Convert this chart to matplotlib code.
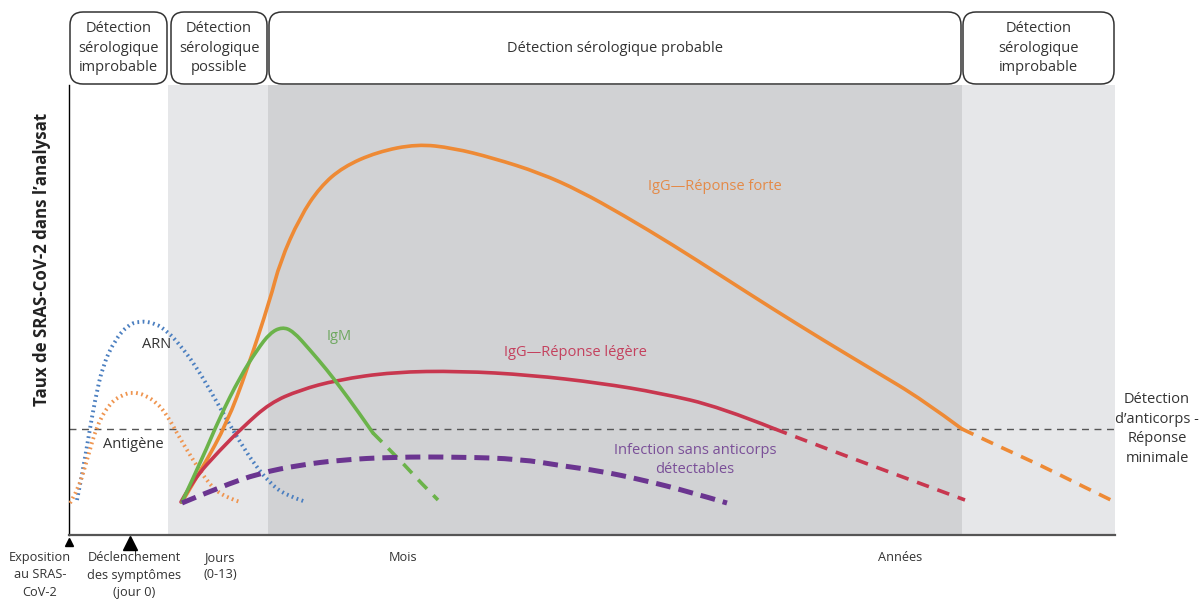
import matplotlib.pyplot as plt
from matplotlib.patches import FancyBboxPatch, Rectangle, PathPatch
from matplotlib.path import Path

plt.rcParams['font.family'] = ['Open Sans', 'DejaVu Sans']

# time axis (arbitrary units, 0 = exposure) and level (0 = baseline)
arn_t = [8, 14, 19, 26, 34, 46, 59, 71, 86, 99, 111, 126, 141, 158, 171, 186, 201, 216, 237]
arn_v = [35, 65, 95, 135, 170, 195, 210, 214, 212, 203, 190, 170, 145, 115, 93, 70, 52, 40, 33]

ag_t = [1, 9, 18, 28, 41, 53, 64, 76, 88, 98, 109, 124, 136, 146, 159, 171]
ag_v = [32, 45, 75, 110, 132, 140, 143, 140, 132, 120, 100, 75, 57, 45, 37, 33]

igg_t = [113, 134, 158, 178, 201, 211, 231, 251, 274, 308, 348, 384, 424, 471, 511,
         554, 604, 654, 704, 754, 804, 854, 893]
igg_v = [33, 68, 112, 165, 235, 273, 318, 348, 368, 383, 391, 387, 377, 362, 344,
         320, 290, 258, 226, 195, 165, 135, 106]
igg_tail_t = [893, 931, 971, 1011, 1046]
igg_tail_v = [106, 88, 70, 50, 33]

igm_t = [113, 134, 151, 171, 188, 201, 213, 224, 241, 258, 271, 288, 304]
igm_v = [33, 78, 118, 158, 185, 202, 208, 204, 185, 165, 148, 125, 102]
igm_tail_t = [304, 331, 351, 369]
igm_tail_v = [102, 75, 53, 35]

iggl_t = [112, 124, 151, 174, 201, 231, 268, 324, 391, 461, 531, 591, 651, 706]
iggl_v = [33, 55, 85, 108, 132, 145, 155, 163, 164, 160, 152, 142, 128, 106]
iggl_tail_t = [706, 761, 831, 896]
iggl_tail_v = [106, 85, 59, 35]

none_t = [113, 151, 191, 231, 271, 324, 391, 451, 494, 531, 574, 621, 658]
none_v = [32, 48, 62, 70, 75, 78, 78, 76, 69, 64, 55, 43, 32]

threshold = 106

# phases: start, end, shade, header text
phase_start = [0, 101, 199, 893]
phase_end = [99, 199, 893, 1046]
phase_shade = ['white', '#e6e7e9', '#d1d2d4', '#e6e7e9']
phase_label = ['Détection\nsérologique\nimprobable', 'Détection\nsérologique\npossible',
               'Détection sérologique probable', 'Détection\nsérologique\nimprobable']

ORANGE = '#ee8a35'
GREEN = '#6bb34a'
RED = '#c8374f'
PURPLE = '#6b3590'
BLUE = '#4b7fc0'
TXT = '#333333'


def smooth_curve(ax, xs, ys, **kw):
    # quadratic bezier through midpoints, so the read points give a smooth stroke
    pts = list(zip(xs, ys))
    verts = [pts[0]]
    codes = [Path.MOVETO]
    for i in range(1, len(pts) - 1):
        mid = ((pts[i][0] + pts[i + 1][0]) / 2, (pts[i][1] + pts[i + 1][1]) / 2)
        if i == len(pts) - 2:
            mid = pts[-1]
        verts += [pts[i], mid]
        codes += [Path.CURVE3, Path.CURVE3]
    if len(pts) == 2:
        verts.append(pts[1])
        codes.append(Path.LINETO)
    ax.add_patch(PathPatch(Path(verts, codes), fill=False, **kw))


fig = plt.figure(figsize=(12.03, 6), dpi=100)
ax = fig.add_axes([69 / 1203, 65 / 600, 1046 / 1203, 450 / 600])
ax.set_xlim(0, 1046)
ax.set_ylim(0, 450)
ax.set_xticks([])
ax.set_yticks([])
for s in ['top', 'right']:
    ax.spines[s].set_visible(False)
ax.spines['left'].set_linewidth(1.0)
ax.spines['bottom'].set_linewidth(1.6)
ax.spines['bottom'].set_color('#555555')

# background shading
for i in range(len(phase_start)):
    a = phase_start[i] if i == 0 else phase_end[i - 1]
    ax.add_patch(Rectangle((a, 0), phase_end[i] - a, 450, color=phase_shade[i], lw=0, zorder=0))

# header boxes
for a, b, lab in zip(phase_start, phase_end, phase_label):
    box = FancyBboxPatch((a + 1, 451), b - a - 2, 72, boxstyle='round,pad=0,rounding_size=13',
                         fc='white', ec='#333333', lw=1.1, clip_on=False, zorder=3)
    ax.add_patch(box)
    ax.text((a + b) / 2, 487, lab, ha='center', va='center', fontsize=10.5,
            color=TXT, linespacing=1.42, zorder=4, clip_on=False)

# threshold
ax.axhline(threshold, color='#555555', lw=1.0, dashes=(5, 4), zorder=2)

# curves
dots = (0, (0.45, 0.9))
smooth_curve(ax, arn_t, arn_v, ec=BLUE, lw=2.8, ls=dots, capstyle='butt', zorder=3)
smooth_curve(ax, ag_t, ag_v, ec='#ef9550', lw=2.8, ls=dots, capstyle='butt', zorder=3)

smooth_curve(ax, igg_t, igg_v, ec=ORANGE, lw=2.6, zorder=4, capstyle='round')
smooth_curve(ax, igg_tail_t, igg_tail_v, ec=ORANGE, lw=2.6, ls=(0, (3.5, 2.5)), zorder=4)

smooth_curve(ax, iggl_t, iggl_v, ec=RED, lw=2.6, zorder=4, capstyle='round')
smooth_curve(ax, iggl_tail_t, iggl_tail_v, ec=RED, lw=2.6, ls=(0, (3.5, 2.5)), zorder=4)

smooth_curve(ax, igm_t, igm_v, ec=GREEN, lw=2.6, zorder=5, capstyle='round')
smooth_curve(ax, igm_tail_t, igm_tail_v, ec=GREEN, lw=2.6, ls=(0, (3.5, 2.5)), zorder=5)

smooth_curve(ax, none_t, none_v, ec=PURPLE, lw=3.6, ls=(0, (3.0, 1.6)), zorder=5)

# curve labels
ax.text(88, 190, 'ARN', ha='center', va='center', fontsize=10.5, color=TXT, zorder=6)
ax.text(64, 91, 'Antigène', ha='center', va='center', fontsize=10.5, color=TXT, zorder=6)
ax.text(270, 198, 'IgM', ha='center', va='center', fontsize=10.5, color='#6fa860', zorder=6)
ax.text(646, 349, 'IgG—Réponse forte', ha='center', va='center', fontsize=10.5, color='#e48a48', zorder=6)
ax.text(506, 182, 'IgG—Réponse légère', ha='center', va='center', fontsize=10.5, color='#c4415e', zorder=6)
ax.text(626, 75, 'Infection sans anticorps\ndétectables', ha='center', va='center',
        fontsize=10.5, color='#7a4f98', linespacing=1.35, zorder=6)

# axis title
ax.text(-27, 276, 'Taux de SRAS-CoV-2 dans l\u2019analysat', rotation=90, ha='center', va='center',
        fontsize=12.2, fontweight='bold', color='#222222', clip_on=False)

# right note
ax.text(1088, 106, 'Détection\nd\u2019anticorps -\nRéponse\nminimale', ha='center', va='center',
        fontsize=10.5, color=TXT, linespacing=1.45, clip_on=False)

# x markers and labels
ax.plot([0], [-7], marker='^', color='black', ms=6, clip_on=False, zorder=6)
ax.plot([61], [-8], marker='^', color='black', ms=10, clip_on=False, zorder=6)

bottom_x = [-29, 65, 151, 334, 831]
bottom_lab = ['Exposition\nau SRAS-\nCoV-2', 'Déclenchement\ndes symptômes\n(jour 0)',
              'Jours\n(0-13)', 'Mois', 'Années']
for x, lab in zip(bottom_x, bottom_lab):
    ax.text(x, -16, lab, ha='center', va='top', fontsize=9.2, color=TXT,
            linespacing=1.45, clip_on=False)

fig.savefig('out.png', dpi=100, facecolor='white')
